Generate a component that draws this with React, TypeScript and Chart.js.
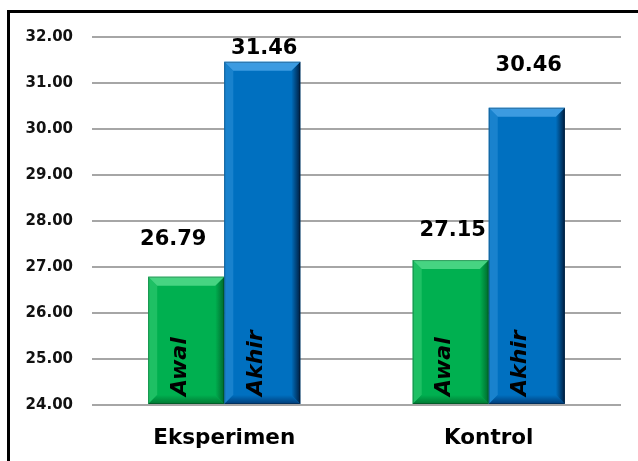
import React, { useEffect, useRef } from "react";
import { Chart, registerables } from "chart.js";

Chart.register(...registerables);

const categories = ["Eksperimen", "Kontrol"];
const seriesNames = ["Awal", "Akhir"];
const awalValues = [26.79, 27.15];
const akhirValues = [31.46, 30.46];
const yMin = 24;
const yMax = 32;
const yStep = 1;

// label nudges (style only): [dx, dy above bar top] per dataset per category
const labelNudge = [
  [[-13, 37], [2, 30]],
  [[2, 13], [2, 42]],
];

const palettes = [
  { base: "rgb(0,176,80)", top: "rgb(70,212,130)", left: "rgb(30,192,100)", right: "rgb(0,105,45)", bottom: "rgb(0,120,50)" },
  { base: "rgb(0,112,192)", top: "rgb(60,155,225)", left: "rgb(25,130,205)", right: "rgb(0,30,65)", bottom: "rgb(0,60,120)" },
];

const bevelPlugin = {
  id: "bevel",
  beforeDraw(chart: any) {
    const ctx = chart.ctx;
    ctx.save();
    ctx.fillStyle = "#ffffff";
    ctx.fillRect(0, 0, chart.width, chart.height);
    ctx.fillStyle = "#000000";
    ctx.fillRect(7, 10, chart.width - 7, 3);
    ctx.fillRect(7, 10, 3, chart.height - 10);
    ctx.restore();
  },
  afterDatasetsDraw(chart: any) {
    const ctx = chart.ctx;
    ctx.save();
    chart.data.datasets.forEach((ds: any, di: number) => {
      const meta = chart.getDatasetMeta(di);
      const pal = palettes[di];
      meta.data.forEach((bar: any, i: number) => {
        const { x, y, base, width } = bar.getProps(["x", "y", "base", "width"], true);
        const l = x - width / 2;
        const r = x + width / 2;
        const t = y;
        const b = base;
        const bv = 9;
        const poly = (pts: number[][], fill: any) => {
          ctx.beginPath();
          ctx.moveTo(pts[0][0], pts[0][1]);
          for (let k = 1; k < pts.length; k++) ctx.lineTo(pts[k][0], pts[k][1]);
          ctx.closePath();
          ctx.fillStyle = fill;
          ctx.fill();
        };
        const gr = ctx.createLinearGradient(r - bv, 0, r, 0);
        gr.addColorStop(0, pal.base);
        gr.addColorStop(1, pal.right);
        poly([[r, t], [r, b], [r - bv, b - bv], [r - bv, t + bv]], gr);
        poly([[l, t], [l + bv, t + bv], [l + bv, b - bv], [l, b]], pal.left);
        const gb = ctx.createLinearGradient(0, b - bv, 0, b);
        gb.addColorStop(0, pal.base);
        gb.addColorStop(1, pal.bottom);
        poly([[l, b], [l + bv, b - bv], [r - bv, b - bv], [r, b]], gb);
        poly([[l, t], [r, t], [r - bv, t + bv], [l + bv, t + bv]], pal.top);
        ctx.strokeStyle = "rgba(0,0,0,0.25)";
        ctx.lineWidth = 1;
        ctx.strokeRect(l + 0.5, t + 0.5, width - 1, b - t - 1);

        // value label
        const nudge = labelNudge[di][i];
        ctx.fillStyle = "#000000";
        ctx.font = "bold 21px 'DejaVu Sans'";
        ctx.textAlign = "center";
        ctx.textBaseline = "middle";
        ctx.fillText(ds.data[i].toFixed(2), x + nudge[0], t - nudge[1]);

        // rotated series name
        ctx.save();
        ctx.translate(x - 6, b - 8);
        ctx.rotate(-Math.PI / 2);
        ctx.font = "italic bold 22px 'DejaVu Sans'";
        ctx.textAlign = "left";
        ctx.textBaseline = "middle";
        ctx.fillStyle = "#000000";
        ctx.fillText(ds.label, 0, 0);
        ctx.restore();
      });
    });
    ctx.restore();
  },
};

export default function App() {
  const ref = useRef<HTMLCanvasElement>(null);
  useEffect(() => {
    if (!ref.current) return;
    const chart = new Chart(ref.current, {
      type: "bar",
      data: {
        labels: categories,
        datasets: [
          { label: seriesNames[0], data: awalValues, base: yMin, backgroundColor: palettes[0].base, borderWidth: 0 },
          { label: seriesNames[1], data: akhirValues, base: yMin, backgroundColor: palettes[1].base, borderWidth: 0 },
        ],
      },
      options: {
        animation: false,
        responsive: false,
        maintainAspectRatio: false,
        layout: { padding: { top: 37, right: 17, left: 0, bottom: 0 } },
        plugins: { legend: { display: false }, tooltip: { enabled: false } },
        datasets: { bar: { barPercentage: 1, categoryPercentage: 0.575 } },
        scales: {
          x: {
            grid: { display: false, drawTicks: false },
            border: { display: false },
            ticks: { color: "#000", font: { family: "'DejaVu Sans'", size: 21.5, weight: "bold" }, padding: 21 },
            afterFit: (s: any) => { s.height = 56; },
          },
          y: {
            min: yMin,
            max: yMax,
            grid: { color: "#a6a6a6", lineWidth: 2, drawTicks: false },
            border: { display: false },
            ticks: {
              stepSize: yStep,
              color: "#111",
              padding: 19,
              font: { family: "'DejaVu Sans'", size: 15, weight: "bold" },
              callback: (v: any) => Number(v).toFixed(2),
            },
            afterFit: (s: any) => { s.width = 92; },
          },
        },
      },
      plugins: [bevelPlugin],
    });
    return () => chart.destroy();
  }, []);
  return (
    <div style={{ position: "fixed", left: 0, top: 0, width: 638, height: 461 }}>
      <canvas ref={ref} width={638} height={461} />
    </div>
  );
}
